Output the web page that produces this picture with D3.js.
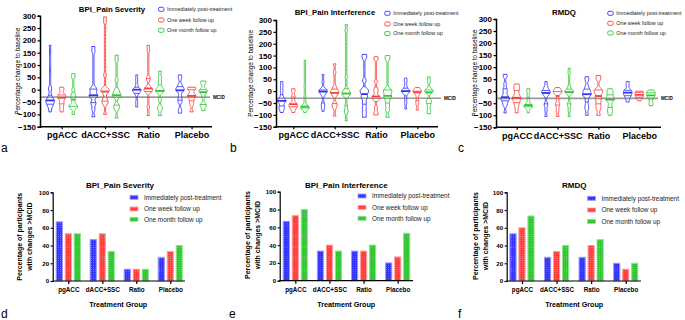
<!DOCTYPE html>
<html>
<head>
<meta charset="utf-8">
<script src="https://cdn.jsdelivr.net/npm/d3@7"></script>
<style>
  body { margin: 0; background: #fff; }
  svg { font-family: "Liberation Sans", Arial, sans-serif; display: block; }
  .axis path, .axis line { stroke: #000; }
</style>
</head>
<body>
<script>
var width = 685,
    height = 320;

// categories / series
var groups = ["pgACC", "dACC+SSC", "Ratio", "Placebo"];
var timepoints = ["Immediately post-treatment", "One week follow up", "One month follow up"];
var colors = ["#3030ff", "#ff3a3a", "#2fc52f"];
var lightColors = ["#9a9aff", "#ffa0a0", "#8fe38f"];

var changeTicks = [300, 250, 200, 150, 100, 50, 0, -50, -100, -150];
var pctTicks = [0, 20, 40, 60, 80, 100];
var mcid = -30;

// % change to baseline, per group -> [post, 1 week, 1 month] (estimated individual values)
var severity_change = [
    [[180, 10, 0, -20, -30, -40, -42, -45, -48, -55, -60, -65, -75, -90],
     [10, 0, -20, -25, -30, -35, -50, -60, -75, -90],
     [65, 50, 0, -20, -30, -40, -60, -65, -70, -75, -100]],
    [[175, 155, 10, 0, -5, -20, -25, -28, -50, -60, -80, -110],
     [295, 275, 60, 5, 0, -5, -10, -30, -45, -50, -60, -100],
     [140, 120, 40, 0, -10, -20, -25, -30, -60, -70, -80, -115]],
    [[60, 40, 20, 0, 0, 0, -5, -10, -20, -50, -70],
     [180, 160, 50, 40, 10, 5, 0, -5, -10, -70, -105],
     [75, 50, 30, 10, 0, -5, -10, -40, -70, -80, -105]],
    [[60, 45, 20, 10, 0, 0, -5, -25, -40, -50, -80, -95],
     [10, 5, 0, -20, -25, -30, -45, -60, -90],
     [35, 25, 0, -5, -10, -30, -60, -65, -85]]
];
var interference_change = [
    [[40, 20, 0, -20, -35, -40, -42, -45, -60, -70, -75, -90],
     [10, 0, -20, -30, -50, -55, -60, -62, -70, -75, -90],
     [130, 20, -20, -40, -60, -65, -68, -70, -72, -75, -90]],
    [[70, 40, 10, 5, 0, 0, -2, -10, -20, -50, -60, -70, -85],
     [115, 80, 20, 5, 0, -5, -10, -20, -50, -60, -70, -105],
     [280, 255, 60, 10, 0, -5, -10, -15, -20, -60, -80, -90, -125]],
    [[155, 140, 45, 10, 0, -5, -20, -30, -50, -70, -90, -110],
     [145, 135, 40, 10, 0, -20, -25, -30, -35, -70, -90, -100],
     [150, 135, 10, 0, -5, -20, -25, -40, -60, -80, -110]],
    [[55, 40, 20, 5, 0, 0, 0, -10, -30, -50, -75],
     [15, 5, 0, 0, -5, -20, -40, -55, -80],
     [60, 40, 10, 0, 0, -5, -40, -45, -60, -80, -95]]
];
var rmdq_change = [
    [[70, 60, 30, 10, 0, -15, -25, -30, -32, -40, -50, -60, -90],
     [30, 20, 10, 0, -15, -25, -30, -35, -45, -55, -70, -90],
     [10, 0, -20, -40, -55, -60, -62, -65, -70, -90]],
    [[40, 20, 10, 0, -2, -5, -10, -20, -50, -60, -80, -105],
     [15, 5, 0, -5, -10, -30, -50, -60, -80, -105],
     [95, 75, 20, 5, 0, -2, -5, -10, -50, -60, -80, -105]],
    [[60, 45, 20, 5, 0, -10, -15, -20, -40, -60, -75, -100],
     [65, 50, 10, 0, -5, -20, -30, -45, -60, -75, -100],
     [10, 0, -10, -20, -30, -35, -40, -60, -75, -85, -100]],
    [[40, 25, 5, 0, -2, -10, -15, -20, -30, -45],
     [0, 0, -5, -10, -15, -20, -25, -30, -40],
     [5, 0, -5, -10, -15, -20, -25, -35, -50, -60]]
];

// % of participants with changes > MCID, per group -> [post, 1 week, 1 month]
var severity_pct = [[66.7, 53.3, 53.3], [46.7, 53.3, 33.3], [13.3, 13.3, 13.3], [26.7, 33.3, 40]];
var interference_pct = [[66.7, 73.3, 80], [33.3, 40, 33.3], [33.3, 33.3, 40], [20, 26.7, 53.3]];
var rmdq_pct = [[53.3, 60, 73.3], [26.7, 33.3, 40], [26.7, 40, 46.7], [20, 13.3, 20]];

var svg = d3.select("body").append("svg")
    .attr("width", width)
    .attr("height", height);

// dotted fill patterns for bars
var defs = svg.append("defs");
colors.forEach(function (c, i) {
    var p = defs.append("pattern")
        .attr("id", "dots" + i)
        .attr("width", 2.2)
        .attr("height", 2.2)
        .attr("patternUnits", "userSpaceOnUse");
    p.append("rect").attr("width", 2.2).attr("height", 2.2).attr("fill", c);
    p.append("circle").attr("cx", 1.1).attr("cy", 1.1).attr("r", 0.45)
        .attr("fill", lightColors[i]);
});

var violinPanels = [
    { title: "BPI_Pain Severity", data: severity_change, axisX: 40, axisEnd: 212, top: 15.7, bottom: 126.7,
      c0: 61.7, c1: 191.6, titleX: 112, titleY: 11.5, legX: 158.5, legY: [9.3, 20, 30.3],
      mcidEnd: 210, mcidColor: "#555", labelX: 20, letter: "a", letterX: 1 },
    { title: "BPI_Pain Interference", data: interference_change, axisX: 276, axisEnd: 438, top: 20, bottom: 126.7,
      c0: 293.3, c1: 417.3, titleX: 335, titleY: 15, legX: 384.7, legY: [13.3, 24, 33.5],
      mcidEnd: 441, mcidColor: "#999", labelX: 253, letter: "b", letterX: 230 },
    { title: "RMDQ", data: rmdq_change, axisX: 496, axisEnd: 661, top: 19, bottom: 127.3,
      c0: 516.7, c1: 639.3, titleX: 564, titleY: 15, legX: 607.7, legY: [13.3, 23.3, 33],
      mcidEnd: 658, mcidColor: "#999", labelX: 477, letter: "c", letterX: 458 }
];

var barPanels = [
    { title: "BPI_Pain Severity", data: severity_pct, axisX: 52.7, axisEnd: 185, top: 192.3, bottom: 281,
      c0: 68.3, c1: 170.3, titleX: 120, legX: 130, legY: [197.3, 209, 219.3], labelX: 21.7, labelY: 236.7,
      groupX: 118.3, letter: "d", letterX: 1 },
    { title: "BPI_Pain Interference", data: interference_pct, axisX: 279.7, axisEnd: 413, top: 191.7, bottom: 280.7,
      c0: 295.3, c1: 397.7, titleX: 346.3, legX: 358, legY: [196, 207.3, 218.3], labelX: 249.7, labelY: 235,
      groupX: 346.3, letter: "e", letterX: 229 },
    { title: "RMDQ", data: rmdq_pct, axisX: 506.7, axisEnd: 641, top: 192.3, bottom: 281,
      c0: 522, c1: 625.7, titleX: 574.3, legX: 587.5, legY: [198.3, 210, 221.5], labelX: 477.7, labelY: 236,
      groupX: 574.3, letter: "f", letterX: 458 }
];

violinPanels.forEach(drawViolinPanel);
barPanels.forEach(drawBarPanel);

function styleAxis(g, fontSize) {
    g.attr("class", "axis");
    g.select(".domain").attr("stroke-width", 1.5);
    g.selectAll(".tick line").attr("stroke-width", 1.2);
    g.selectAll(".tick text")
        .attr("fill", "#000")
        .attr("font-weight", "bold")
        .attr("font-size", fontSize)
        .attr("font-family", "Liberation Sans, Arial, sans-serif");
}

function drawViolinPanel(p) {
    var y = d3.scaleLinear().domain([-150, 300]).range([p.bottom, p.top]);
    var x = d3.scalePoint().domain(groups).range([p.c0, p.c1]);
    var step = 11.6;
    var g = svg.append("g");

    // MCID reference line
    g.append("line")
        .attr("x1", p.axisX).attr("x2", p.mcidEnd)
        .attr("y1", y(mcid)).attr("y2", y(mcid))
        .attr("stroke", p.mcidColor)
        .attr("stroke-width", p.mcidColor == "#555" ? 1 : 1.6);
    g.append("text")
        .attr("x", p.mcidEnd + 3).attr("y", y(mcid) + 1.6)
        .attr("font-size", 4.6).attr("font-weight", "bold")
        .text("MCID");

    // violins
    groups.forEach(function (grp, gi) {
        p.data[gi].forEach(function (vals, ti) {
            drawViolin(g, vals, x(grp) + (ti - 1) * step, y, colors[ti]);
        });
    });

    // axes
    var ya = g.append("g")
        .attr("transform", "translate(" + p.axisX + ",0)")
        .call(d3.axisLeft(y).tickValues(changeTicks).tickSize(2.5).tickPadding(1.5));
    styleAxis(ya, 8);

    var xa = g.append("g")
        .attr("transform", "translate(0," + p.bottom + ")")
        .call(d3.axisBottom(x).tickSize(2.5).tickPadding(2.5));
    xa.select(".domain").remove();
    xa.append("line")
        .attr("x1", p.axisX).attr("x2", p.axisEnd)
        .attr("stroke", "#000").attr("stroke-width", 1.5);
    styleAxis(xa, 9);

    // labels
    g.append("text")
        .attr("transform", "translate(" + p.labelX + "," + ((p.top + p.bottom) / 2) + ") rotate(-90)")
        .attr("text-anchor", "middle")
        .attr("font-size", 6.3)
        .text("Percentage change to baseline");
    g.append("text")
        .attr("x", p.titleX).attr("y", p.titleY)
        .attr("text-anchor", "middle")
        .attr("font-size", 7.8).attr("font-weight", "bold")
        .text(p.title);

    // legend
    timepoints.forEach(function (t, i) {
        g.append("rect")
            .attr("x", p.legX).attr("y", p.legY[i] - 2)
            .attr("width", 5.5).attr("height", 4).attr("rx", 1.5)
            .attr("fill", "none").attr("stroke", colors[i]).attr("stroke-width", 0.9);
        g.append("text")
            .attr("x", p.legX + 8.5).attr("y", p.legY[i] + 1.8)
            .attr("font-size", 5.4).attr("fill", "#222")
            .text(t);
    });

    g.append("text")
        .attr("x", p.letterX).attr("y", 152)
        .attr("font-size", 12)
        .text(p.letter);
}

function drawViolin(g, vals, cx, y, color) {
    var sorted = vals.slice().sort(d3.ascending);
    var lo = sorted[0], hi = sorted[sorted.length - 1];
    var bw = 8;
    var n = 70;

    function density(v) {
        return d3.sum(sorted, function (s) {
            var u = (v - s) / bw;
            return Math.exp(-0.5 * u * u);
        });
    }

    var pts = d3.range(n + 1).map(function (i) {
        var v = lo + (hi - lo) * i / n;
        return { v: v, d: density(v) };
    });
    var maxD = d3.max(pts, function (d) { return d.d; });
    var w = d3.scaleLinear().domain([0, maxD]).range([0, 4.3]);
    function halfWidth(v) { return Math.max(0.6, w(density(v))); }

    var area = d3.area()
        .y(function (d) { return y(d.v); })
        .x0(function (d) { return cx - Math.max(0.6, w(d.d)); })
        .x1(function (d) { return cx + Math.max(0.6, w(d.d)); })
        .curve(d3.curveMonotoneY);
    g.append("path")
        .attr("d", area(pts))
        .attr("fill", "none")
        .attr("stroke", color)
        .attr("stroke-width", 0.9);

    // quartiles (thin) and median (thick)
    [[0.25, 0.8], [0.5, 1.8], [0.75, 0.8]].forEach(function (q) {
        var v = d3.quantile(sorted, q[0]);
        var hw = halfWidth(v);
        g.append("line")
            .attr("x1", cx - hw).attr("x2", cx + hw)
            .attr("y1", y(v)).attr("y2", y(v))
            .attr("stroke", color)
            .attr("stroke-width", q[1]);
    });
}

function drawBarPanel(p) {
    var y = d3.scaleLinear().domain([0, 100]).range([p.bottom, p.top]);
    var x = d3.scalePoint().domain(groups).range([p.c0, p.c1]);
    var step = 9, bw = 6.2;
    var g = svg.append("g");

    groups.forEach(function (grp, gi) {
        g.selectAll(null)
            .data(p.data[gi])
            .join("rect")
            .attr("x", function (d, i) { return x(grp) + (i - 1) * step - bw / 2; })
            .attr("y", function (d) { return y(d); })
            .attr("width", bw)
            .attr("height", function (d) { return p.bottom - y(d); })
            .attr("fill", function (d, i) { return "url(#dots" + i + ")"; })
            .attr("stroke", function (d, i) { return lightColors[i]; })
            .attr("stroke-width", 1);
    });

    var ya = g.append("g")
        .attr("transform", "translate(" + p.axisX + ",0)")
        .call(d3.axisLeft(y).tickValues(pctTicks).tickSize(2).tickPadding(1.5));
    styleAxis(ya, 6.2);
    ya.select(".domain").attr("stroke-width", 1.2);

    var xa = g.append("g")
        .attr("transform", "translate(0," + p.bottom + ")")
        .call(d3.axisBottom(x).tickSize(3).tickPadding(4));
    xa.select(".domain").remove();
    xa.append("line")
        .attr("x1", p.axisX).attr("x2", p.axisEnd)
        .attr("stroke", "#000").attr("stroke-width", 1.2);
    styleAxis(xa, 6.3);

    g.append("text")
        .attr("x", p.titleX).attr("y", 187.5)
        .attr("text-anchor", "middle")
        .attr("font-size", 8).attr("font-weight", "bold")
        .text(p.title);

    var yl = g.append("text")
        .attr("transform", "translate(" + p.labelX + "," + p.labelY + ") rotate(-90)")
        .attr("text-anchor", "middle")
        .attr("font-size", 7).attr("font-weight", "bold");
    yl.append("tspan").attr("x", 0).attr("dy", 0).text("Percentage of participants");
    yl.append("tspan").attr("x", 0).attr("dy", 10).text("with changes >MCID");

    g.append("text")
        .attr("x", p.groupX).attr("y", 307.3)
        .attr("text-anchor", "middle")
        .attr("font-size", 7.2).attr("font-weight", "bold")
        .text("Treatment Group");

    timepoints.forEach(function (t, i) {
        g.append("rect")
            .attr("x", p.legX).attr("y", p.legY[i] - 2)
            .attr("width", 8).attr("height", 4)
            .attr("fill", "url(#dots" + i + ")")
            .attr("stroke", lightColors[i]).attr("stroke-width", 0.8);
        g.append("text")
            .attr("x", p.legX + 14).attr("y", p.legY[i] + 2.2)
            .attr("font-size", 6.4).attr("fill", "#222")
            .text(t);
    });

    g.append("text")
        .attr("x", p.letterX).attr("y", 318)
        .attr("font-size", 12)
        .text(p.letter);
}
</script>
</body>
</html>
